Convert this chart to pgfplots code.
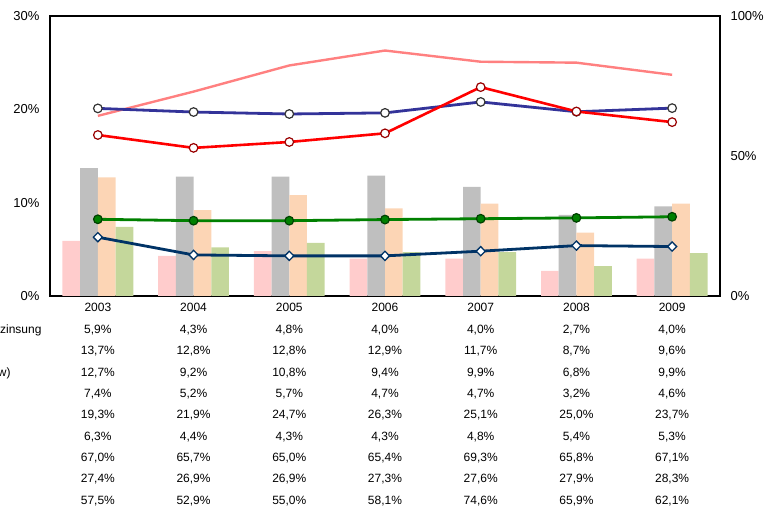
\documentclass[border=0pt]{standalone}
\usepackage{pgfplots}
\pgfplotsset{compat=1.18}
\usepackage{fontspec}
\setmainfont{Liberation Sans}

\definecolor{cpink}{HTML}{FFCCCC}
\definecolor{cgray}{HTML}{BFBFBF}
\definecolor{cpeach}{HTML}{FCD5B5}
\definecolor{cgreenbar}{HTML}{C4D79B}
\definecolor{csalmon}{HTML}{FF8080}
\definecolor{cblue}{HTML}{333399}
\definecolor{cred}{HTML}{FF0000}
\definecolor{cdarkred}{HTML}{990000}
\definecolor{cgreen}{HTML}{008000}
\definecolor{cdarkgreen}{HTML}{004000}
\definecolor{cnavy}{HTML}{003366}

\newcommand{\axfont}{\fontsize{13bp}{15bp}\selectfont}
\newcommand{\tabfont}{\fontsize{12bp}{14bp}\selectfont}

\begin{document}
\begin{tikzpicture}
\path[use as bounding box] (0bp,0bp) rectangle (767bp,507bp);
\coordinate (O) at (50bp,211bp);
\begin{axis}[
  at={(O)}, anchor=south west,
  scale only axis, width=670bp, height=280bp,
  xmin=-0.5, xmax=6.5, ymin=0, ymax=30,
  xtick=\empty,
  ytick={0,10,20,30},
  yticklabels={0\%,10\%,20\%,30\%},
  yticklabel style={font=\axfont, xshift=-7bp},
  major tick length=0pt,
  axis line style={black, line width=1.2bp},
  clip=false,
]
\addplot[ybar, bar width=17.7bp, bar shift=-26.55bp, fill=cpink, draw=none] coordinates {(0,5.9) (1,4.3) (2,4.8) (3,4.0) (4,4.0) (5,2.7) (6,4.0)};
\addplot[ybar, bar width=17.7bp, bar shift=-8.85bp, fill=cgray, draw=none] coordinates {(0,13.7) (1,12.8) (2,12.8) (3,12.9) (4,11.7) (5,8.7) (6,9.6)};
\addplot[ybar, bar width=17.7bp, bar shift=8.85bp, fill=cpeach, draw=none] coordinates {(0,12.7) (1,9.2) (2,10.8) (3,9.4) (4,9.9) (5,6.8) (6,9.9)};
\addplot[ybar, bar width=17.7bp, bar shift=26.55bp, fill=cgreenbar, draw=none] coordinates {(0,7.4) (1,5.2) (2,5.7) (3,4.7) (4,4.7) (5,3.2) (6,4.6)};
\addplot[sharp plot, csalmon, line width=2.4bp, mark=none] coordinates {(0,19.3) (1,21.9) (2,24.7) (3,26.3) (4,25.1) (5,25.0) (6,23.7)};
\addplot[sharp plot, cnavy, line width=2.8bp, mark=diamond*, mark size=4.6bp, mark options={fill=white, draw=cnavy, line width=1.3bp, xscale=1.3}] coordinates {(0,6.3) (1,4.4) (2,4.3) (3,4.3) (4,4.8) (5,5.4) (6,5.3)};
\end{axis}
\begin{axis}[
  at={(O)}, anchor=south west,
  scale only axis, width=670bp, height=280bp,
  xmin=-0.5, xmax=6.5, ymin=0, ymax=100,
  axis x line=none,
  axis y line*=right,
  ytick={0,50,100},
  yticklabels={0\%,50\%,100\%},
  yticklabel style={font=\axfont, xshift=7bp},
  major tick length=0pt,
  axis line style={black, line width=1.2bp},
  clip=false,
]
\addplot[sharp plot, cblue, line width=2.8bp, mark=*, mark size=4.3bp, mark options={fill=white, draw=black!80, line width=1.2bp}] coordinates {(0,67.0) (1,65.7) (2,65.0) (3,65.4) (4,69.3) (5,65.8) (6,67.1)};
\addplot[sharp plot, cgreen, line width=2.8bp, mark=*, mark size=4.3bp, mark options={fill=cgreen, draw=cdarkgreen, line width=1.2bp}] coordinates {(0,27.4) (1,26.9) (2,26.9) (3,27.3) (4,27.6) (5,27.9) (6,28.3)};
\addplot[sharp plot, cred, line width=2.6bp, mark=*, mark size=4.3bp, mark options={fill=white, draw=cdarkred, line width=1.2bp}] coordinates {(0,57.5) (1,52.9) (2,55.0) (3,58.1) (4,74.6) (5,65.9) (6,62.1)};
\end{axis}
% data table below the chart
\foreach \yr [count=\i from 0] in {2003,2004,2005,2006,2007,2008,2009}
  \node[font=\tabfont, anchor=base, inner sep=0pt] at ({(50+95.714*(\i+0.5))*1bp}, {(507-311)*1bp}) {\yr};
\foreach \row/\vals in {
  0/{{5,9},{4,3},{4,8},{4,0},{4,0},{2,7},{4,0}},
  1/{{13,7},{12,8},{12,8},{12,9},{11,7},{8,7},{9,6}},
  2/{{12,7},{9,2},{10,8},{9,4},{9,9},{6,8},{9,9}},
  3/{{7,4},{5,2},{5,7},{4,7},{4,7},{3,2},{4,6}},
  4/{{19,3},{21,9},{24,7},{26,3},{25,1},{25,0},{23,7}},
  5/{{6,3},{4,4},{4,3},{4,3},{4,8},{5,4},{5,3}},
  6/{{67,0},{65,7},{65,0},{65,4},{69,3},{65,8},{67,1}},
  7/{{27,4},{26,9},{26,9},{27,3},{27,6},{27,9},{28,3}},
  8/{{57,5},{52,9},{55,0},{58,1},{74,6},{65,9},{62,1}}}{
  \foreach \v [count=\i from 0] in \vals
    \node[font=\tabfont, anchor=base, inner sep=0pt] at ({(50+95.714*(\i+0.5))*1bp}, {(507-(329.3+4.3+21.33*\row))*1bp}) {\v\%};
}
\node[font=\tabfont, anchor=base east, inner sep=0pt] at (41.7bp, {(507-(329.3+4.3))*1bp}) {zinsung};
\node[font=\tabfont, anchor=base east, inner sep=0pt] at (10.7bp, {(507-(329.3+4.3+21.33*2))*1bp}) {w)};
\end{tikzpicture}
\end{document}
